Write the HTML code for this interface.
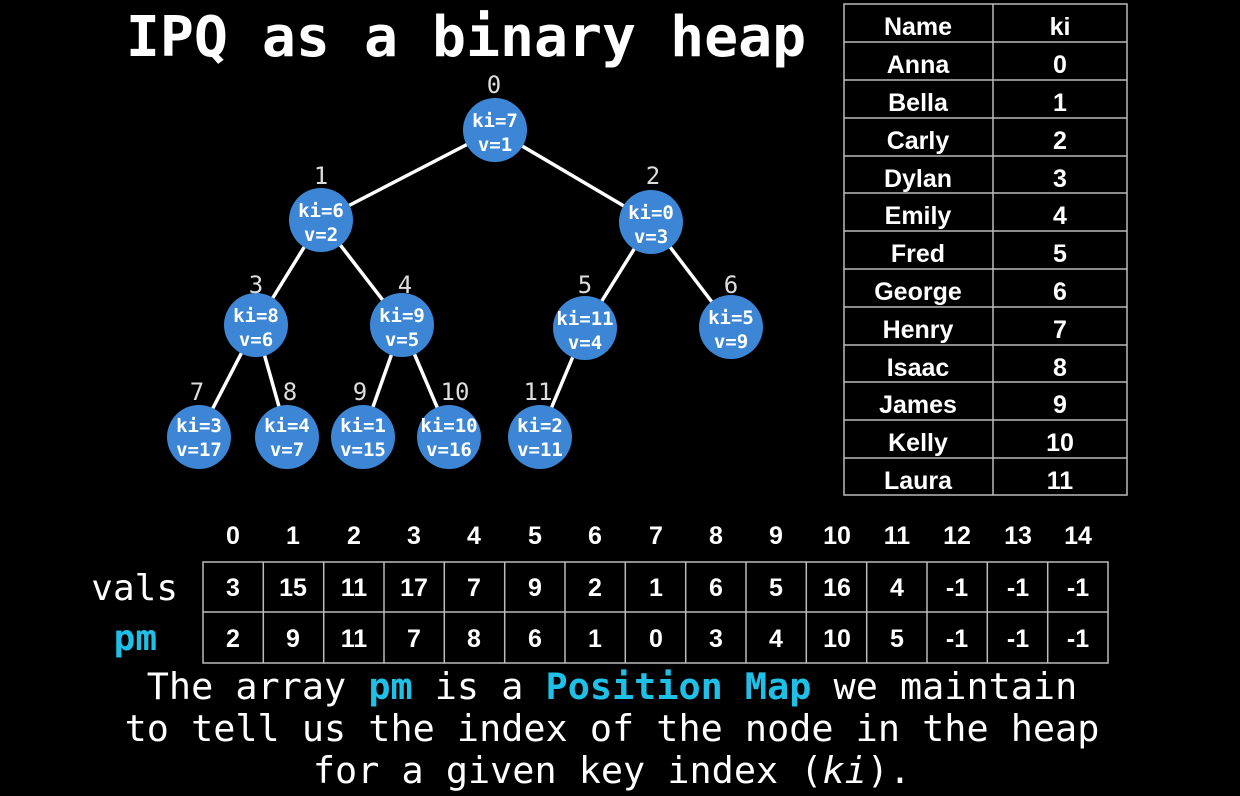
<!DOCTYPE html>
<html><head><meta charset="utf-8"><style>
html,body{margin:0;padding:0;background:#000;}
svg{display:block}
.m{font-family:"DejaVu Sans Mono","Liberation Mono",monospace;}
.s{font-family:"Liberation Sans",Arial,sans-serif;font-weight:bold;}
</style></head><body>
<svg width="1240" height="796" viewBox="0 0 1240 796" xmlns="http://www.w3.org/2000/svg">
<rect width="1240" height="796" fill="#000"/>
<text x="466" y="56" class="m" font-size="56.5" font-weight="bold" fill="#fff" text-anchor="middle">IPQ as a binary heap</text>
<g stroke="#fff" stroke-width="3.5">
<line x1="495" y1="130" x2="321" y2="220"/><line x1="495" y1="130" x2="651" y2="222"/>
<line x1="321" y1="220" x2="256" y2="325"/><line x1="321" y1="220" x2="402" y2="325"/>
<line x1="651" y1="222" x2="585" y2="328"/><line x1="651" y1="222" x2="731" y2="327"/>
<line x1="256" y1="325" x2="199" y2="435"/><line x1="256" y1="325" x2="287" y2="435"/>
<line x1="402" y1="325" x2="363" y2="435"/><line x1="402" y1="325" x2="449" y2="435"/>
<line x1="585" y1="328" x2="540" y2="435"/>
</g>
<g fill="#3c86d5">
<circle cx="495" cy="130" r="32"/><circle cx="321" cy="220" r="32"/><circle cx="651" cy="222" r="32"/>
<circle cx="256" cy="325" r="32"/><circle cx="402" cy="325" r="32"/><circle cx="585" cy="328" r="32"/><circle cx="731" cy="327" r="32"/>
<circle cx="199" cy="437" r="32"/><circle cx="287" cy="437" r="32"/><circle cx="363" cy="437" r="32"/><circle cx="449" cy="437" r="32"/><circle cx="540" cy="437" r="32"/>
</g>
<g class="m" font-size="19" font-weight="bold" fill="#fff" text-anchor="middle">
<text x="495" y="127">ki=7</text><text x="495" y="151">v=1</text>
<text x="321" y="217">ki=6</text><text x="321" y="241">v=2</text>
<text x="651" y="219">ki=0</text><text x="651" y="243">v=3</text>
<text x="256" y="322">ki=8</text><text x="256" y="346">v=6</text>
<text x="402" y="322">ki=9</text><text x="402" y="346">v=5</text>
<text x="585" y="325">ki=11</text><text x="585" y="349">v=4</text>
<text x="731" y="324">ki=5</text><text x="731" y="348">v=9</text>
<text x="199" y="432">ki=3</text><text x="199" y="456">v=17</text>
<text x="287" y="432">ki=4</text><text x="287" y="456">v=7</text>
<text x="363" y="432">ki=1</text><text x="363" y="456">v=15</text>
<text x="449" y="432">ki=10</text><text x="449" y="456">v=16</text>
<text x="540" y="432">ki=2</text><text x="540" y="456">v=11</text>
</g>
<g class="m" font-size="24" fill="#ddd" text-anchor="middle">
<text x="494" y="93">0</text><text x="321" y="184">1</text><text x="653" y="184">2</text>
<text x="256" y="293">3</text><text x="405" y="293">4</text><text x="585" y="293">5</text><text x="731" y="293">6</text>
<text x="197" y="400">7</text><text x="290" y="400">8</text><text x="360" y="400">9</text><text x="455" y="400">10</text><text x="538" y="400">11</text>
</g>
<g stroke="#bbb" stroke-width="1.5" fill="none">
<rect x="844" y="4" width="283" height="491"/>
<line x1="993" y1="4" x2="993" y2="495"/>
</g>
<g class="s" font-size="25" fill="#fff" text-anchor="middle">
<text x="918" y="35">Name</text><text x="1060" y="35">ki</text>
<text x="918" y="73">Anna</text><text x="1060" y="73">0</text>
<text x="918" y="111">Bella</text><text x="1060" y="111">1</text>
<text x="918" y="149">Carly</text><text x="1060" y="149">2</text>
<text x="918" y="187">Dylan</text><text x="1060" y="187">3</text>
<text x="918" y="224">Emily</text><text x="1060" y="224">4</text>
<text x="918" y="262">Fred</text><text x="1060" y="262">5</text>
<text x="918" y="300">George</text><text x="1060" y="300">6</text>
<text x="918" y="338">Henry</text><text x="1060" y="338">7</text>
<text x="918" y="376">Isaac</text><text x="1060" y="376">8</text>
<text x="918" y="413">James</text><text x="1060" y="413">9</text>
<text x="918" y="451">Kelly</text><text x="1060" y="451">10</text>
<text x="918" y="489">Laura</text><text x="1060" y="489">11</text>
</g>
<g stroke="#bbb" stroke-width="1.5">
<line x1="844" y1="42" x2="1127" y2="42"/><line x1="844" y1="80" x2="1127" y2="80"/><line x1="844" y1="118" x2="1127" y2="118"/>
<line x1="844" y1="156" x2="1127" y2="156"/><line x1="844" y1="193" x2="1127" y2="193"/><line x1="844" y1="231" x2="1127" y2="231"/>
<line x1="844" y1="269" x2="1127" y2="269"/><line x1="844" y1="307" x2="1127" y2="307"/><line x1="844" y1="345" x2="1127" y2="345"/>
<line x1="844" y1="382" x2="1127" y2="382"/><line x1="844" y1="420" x2="1127" y2="420"/><line x1="844" y1="458" x2="1127" y2="458"/>
</g>
<g stroke="#bbb" stroke-width="1.5" fill="none">
<rect x="203" y="562" width="905" height="101"/>
<line x1="203" y1="612" x2="1108" y2="612"/>
<line x1="263.3" y1="562" x2="263.3" y2="663"/><line x1="323.7" y1="562" x2="323.7" y2="663"/><line x1="384" y1="562" x2="384" y2="663"/>
<line x1="444.3" y1="562" x2="444.3" y2="663"/><line x1="504.7" y1="562" x2="504.7" y2="663"/><line x1="565" y1="562" x2="565" y2="663"/>
<line x1="625.3" y1="562" x2="625.3" y2="663"/><line x1="685.7" y1="562" x2="685.7" y2="663"/><line x1="746" y1="562" x2="746" y2="663"/>
<line x1="806.3" y1="562" x2="806.3" y2="663"/><line x1="866.7" y1="562" x2="866.7" y2="663"/><line x1="927" y1="562" x2="927" y2="663"/>
<line x1="987.3" y1="562" x2="987.3" y2="663"/><line x1="1047.7" y1="562" x2="1047.7" y2="663"/>
</g>
<g class="s" font-size="25" fill="#fff" text-anchor="middle">
<text x="233" y="544">0</text><text x="293" y="544">1</text><text x="354" y="544">2</text><text x="414" y="544">3</text><text x="474" y="544">4</text><text x="535" y="544">5</text><text x="595" y="544">6</text><text x="656" y="544">7</text><text x="716" y="544">8</text><text x="776" y="544">9</text><text x="837" y="544">10</text><text x="897" y="544">11</text><text x="957" y="544">12</text><text x="1018" y="544">13</text><text x="1078" y="544">14</text>
<text x="233" y="596">3</text><text x="293" y="596">15</text><text x="354" y="596">11</text><text x="414" y="596">17</text><text x="474" y="596">7</text><text x="535" y="596">9</text><text x="595" y="596">2</text><text x="656" y="596">1</text><text x="716" y="596">6</text><text x="776" y="596">5</text><text x="837" y="596">16</text><text x="897" y="596">4</text><text x="957" y="596">-1</text><text x="1018" y="596">-1</text><text x="1078" y="596">-1</text>
<text x="233" y="647">2</text><text x="293" y="647">9</text><text x="354" y="647">11</text><text x="414" y="647">7</text><text x="474" y="647">8</text><text x="535" y="647">6</text><text x="595" y="647">1</text><text x="656" y="647">0</text><text x="716" y="647">3</text><text x="776" y="647">4</text><text x="837" y="647">10</text><text x="897" y="647">5</text><text x="957" y="647">-1</text><text x="1018" y="647">-1</text><text x="1078" y="647">-1</text>
</g>
<text x="178" y="600" class="m" font-size="36" fill="#fff" text-anchor="end">vals</text>
<text x="157" y="650" class="m" font-size="36" font-weight="bold" fill="#1ec0e8" text-anchor="end">pm</text>
<g class="m" font-size="36.8" fill="#fff" text-anchor="middle">
<text x="612" y="699">The array <tspan fill="#1ec0e8" font-weight="bold">pm</tspan> is a <tspan fill="#1ec0e8" font-weight="bold">Position Map</tspan> we maintain</text>
<text x="612" y="741">to tell us the index of the node in the heap</text>
<text x="612" y="783">for a given key index (<tspan font-style="italic">ki</tspan>).</text>
</g>
</svg>
</body></html>
